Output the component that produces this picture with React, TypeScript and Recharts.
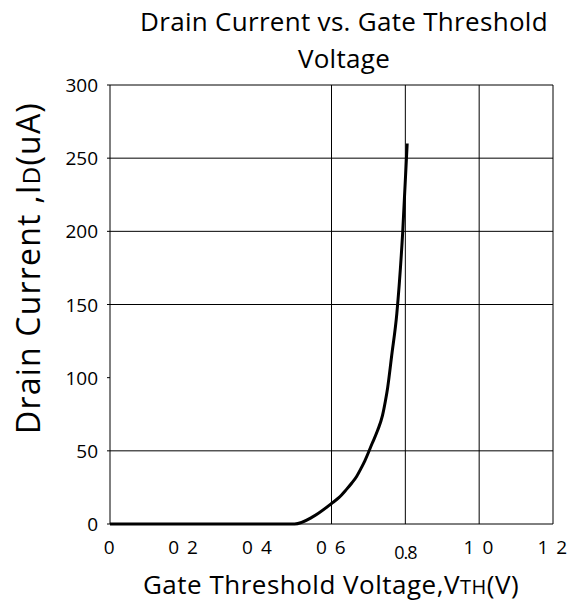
import React from "react";
import { LineChart, Line, XAxis, YAxis, ReferenceLine } from "recharts";

const voltage = [0, 0.1, 0.2, 0.3, 0.4, 0.5, 0.55, 0.6, 0.62, 0.64, 0.655, 0.668, 0.68, 0.69, 0.71, 0.725, 0.738, 0.746, 0.752, 0.763, 0.777, 0.793, 0.805];
const current = [0, 0, 0, 0, 0, 0, 5, 14, 18, 23.5, 28, 32.5, 38, 43, 55, 64, 74, 84, 93, 115, 144, 200, 260];
const xTicks = [0, 0.2, 0.4, 0.6, 0.8, 1.0, 1.2];
const xTickLabels = ["0", "0 2", "0 4", "0 6", "0.8", "1 0", "1 2"];
const yTicks = [0, 50, 100, 150, 200, 250, 300];
const gridX = [0.6, 0.8, 1.0, 1.2];
const gridY = [50, 150, 200, 250, 300];

const data = voltage.map((v, i) => ({ v, i: current[i] }));
const FONT = "'Open Sans', sans-serif";

const XTick = (props: any) => {
  const { x, y, payload, index } = props;
  const label = xTickLabels[index] ?? String(payload.value);
  const isDot = label === "0.8";
  return (
    <text
      x={x}
      y={y + (isDot ? 27 : 22)}
      textAnchor="middle"
      fontSize={isDot ? 18 : 19}
      letterSpacing={isDot ? -1 : 1.5}
      fontFamily={FONT}
      fill="#000"
    >
      {label.replace(" ", "\u00a0")}
    </text>
  );
};

const YTick = (props: any) => {
  const { x, y, payload } = props;
  return (
    <text x={x - 7} y={y + 7} textAnchor="end" fontSize={19} fontFamily={FONT} fill="#000">
      {payload.value}
    </text>
  );
};

export default function App() {
  return (
    <div style={{ position: "absolute", left: 0, top: 0, width: 575, height: 602, background: "#fff", fontFamily: FONT }}>
      <div style={{ position: "absolute", left: 94, width: 500, top: 3, textAlign: "center", fontSize: 26, letterSpacing: 0.3, lineHeight: "37px", color: "#000" }}>
        Drain Current vs. Gate Threshold<br />Voltage
      </div>
      <div style={{ position: "absolute", left: 331 - 250, width: 500, top: 566, textAlign: "center", fontSize: 26, letterSpacing: 0.5, lineHeight: "36px", color: "#000", whiteSpace: "nowrap" }}>
        Gate Threshold Voltage,V<span style={{ fontSize: 20 }}>TH</span>(V)
      </div>
      <div style={{ position: "absolute", left: 28 - 200, top: 268 - 22, width: 400, height: 44, lineHeight: "44px", textAlign: "center", fontSize: 32, letterSpacing: 1.2, color: "#000", transform: "rotate(-90deg)", whiteSpace: "nowrap" }}>
        Drain Current ,I<span style={{ fontSize: 24 }}>D</span>(uA)
      </div>
      <div style={{ position: "absolute", left: 0, top: 0 }}>
        <LineChart width={575} height={602} data={data} margin={{ top: 85, right: 22, bottom: 38, left: 50 }}>
          {gridY.map((g) => (
            <ReferenceLine key={"y" + g} y={g} stroke="#000" strokeWidth={1} />
          ))}
          {gridX.map((g) => (
            <ReferenceLine key={"x" + g} x={g} stroke="#000" strokeWidth={1} />
          ))}
          <XAxis
            type="number"
            dataKey="v"
            domain={[0, 1.2]}
            ticks={xTicks}
            interval={0}
            height={40}
            stroke="#000"
            tickLine={false}
            tick={<XTick />}
          />
          <YAxis
            type="number"
            domain={[0, 300]}
            ticks={yTicks}
            interval={0}
            width={60}
            stroke="#000"
            tickSize={3}
            tick={<YTick />}
          />
          <Line type="monotone" dataKey="i" stroke="#000" strokeWidth={3} dot={false} isAnimationActive={false} />
        </LineChart>
      </div>
    </div>
  );
}
